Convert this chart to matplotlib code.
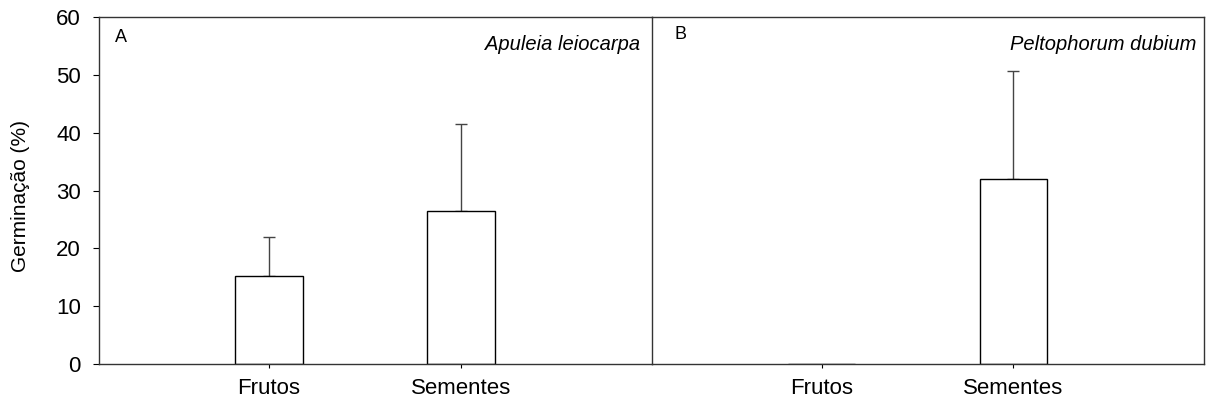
import matplotlib.pyplot as plt

plt.rcParams['font.family'] = ['Liberation Sans', 'DejaVu Sans']

# dados de germinação (%) - média e erro
categorias = ['Frutos', 'Sementes']
apuleia_media = [15.3, 26.5]
apuleia_erro = [6.6, 15.0]
peltophorum_media = [0.0, 32.0]
peltophorum_erro = [0.0, 18.6]

paineis = [
    ('A', 'Apuleia leiocarpa', apuleia_media, apuleia_erro),
    ('B', 'Peltophorum dubium', peltophorum_media, peltophorum_erro),
]

fig = plt.figure(figsize=(12.06, 4.08), dpi=100)
ax1 = fig.add_axes([0.0821, 0.1078, 0.4585, 0.8505])
ax2 = fig.add_axes([0.5406, 0.1078, 0.4577, 0.8505])

x = [1, 2]
for ax, (letra, especie, media, erro) in zip([ax1, ax2], paineis):
    ax.patch.set_visible(False)
    ax.bar(x, media, width=0.35, color='white', edgecolor='black', linewidth=1.0,
           zorder=2)
    # barra de erro só para cima, e só onde existe
    xe = [xi for xi, e in zip(x, erro) if e > 0]
    me = [m for m, e in zip(media, erro) if e > 0]
    ee = [e for e in erro if e > 0]
    ax.errorbar(xe, me, yerr=[[0] * len(ee), ee], fmt='none', ecolor='#444444',
                elinewidth=1.0, capsize=4, capthick=1.0, zorder=1)
    ax.set_xlim(0.115, 2.995)
    ax.set_ylim(0, 60)
    ax.set_xticks(x)
    ax.set_xticklabels(categorias, fontsize=16)
    ax.tick_params(axis='x', length=3, width=0.8, direction='out', pad=7)
    for s in ax.spines.values():
        s.set_linewidth(1.0)
        s.set_color('#333333')
    ax.text(0.978 if letra == 'A' else 0.986, 0.922, especie, transform=ax.transAxes,
            ha='right', va='center', fontsize=14.5, style='italic')

ax1.text(0.029, 0.965, 'A', transform=ax1.transAxes, ha='left', va='top', fontsize=13)
ax2.text(0.040, 0.974, 'B', transform=ax2.transAxes, ha='left', va='top', fontsize=13)

ax1.set_yticks(range(0, 61, 10))
ax1.tick_params(axis='y', labelsize=16, length=4, width=0.8, direction='out', pad=9)
ax1.set_ylabel('Germinação (%)', fontsize=15)
ax1.yaxis.set_label_coords(-0.125, 0.484)

ax2.spines['left'].set_visible(False)
ax2.tick_params(axis='y', left=False, labelleft=False)

fig.savefig('out.png', dpi=100)
